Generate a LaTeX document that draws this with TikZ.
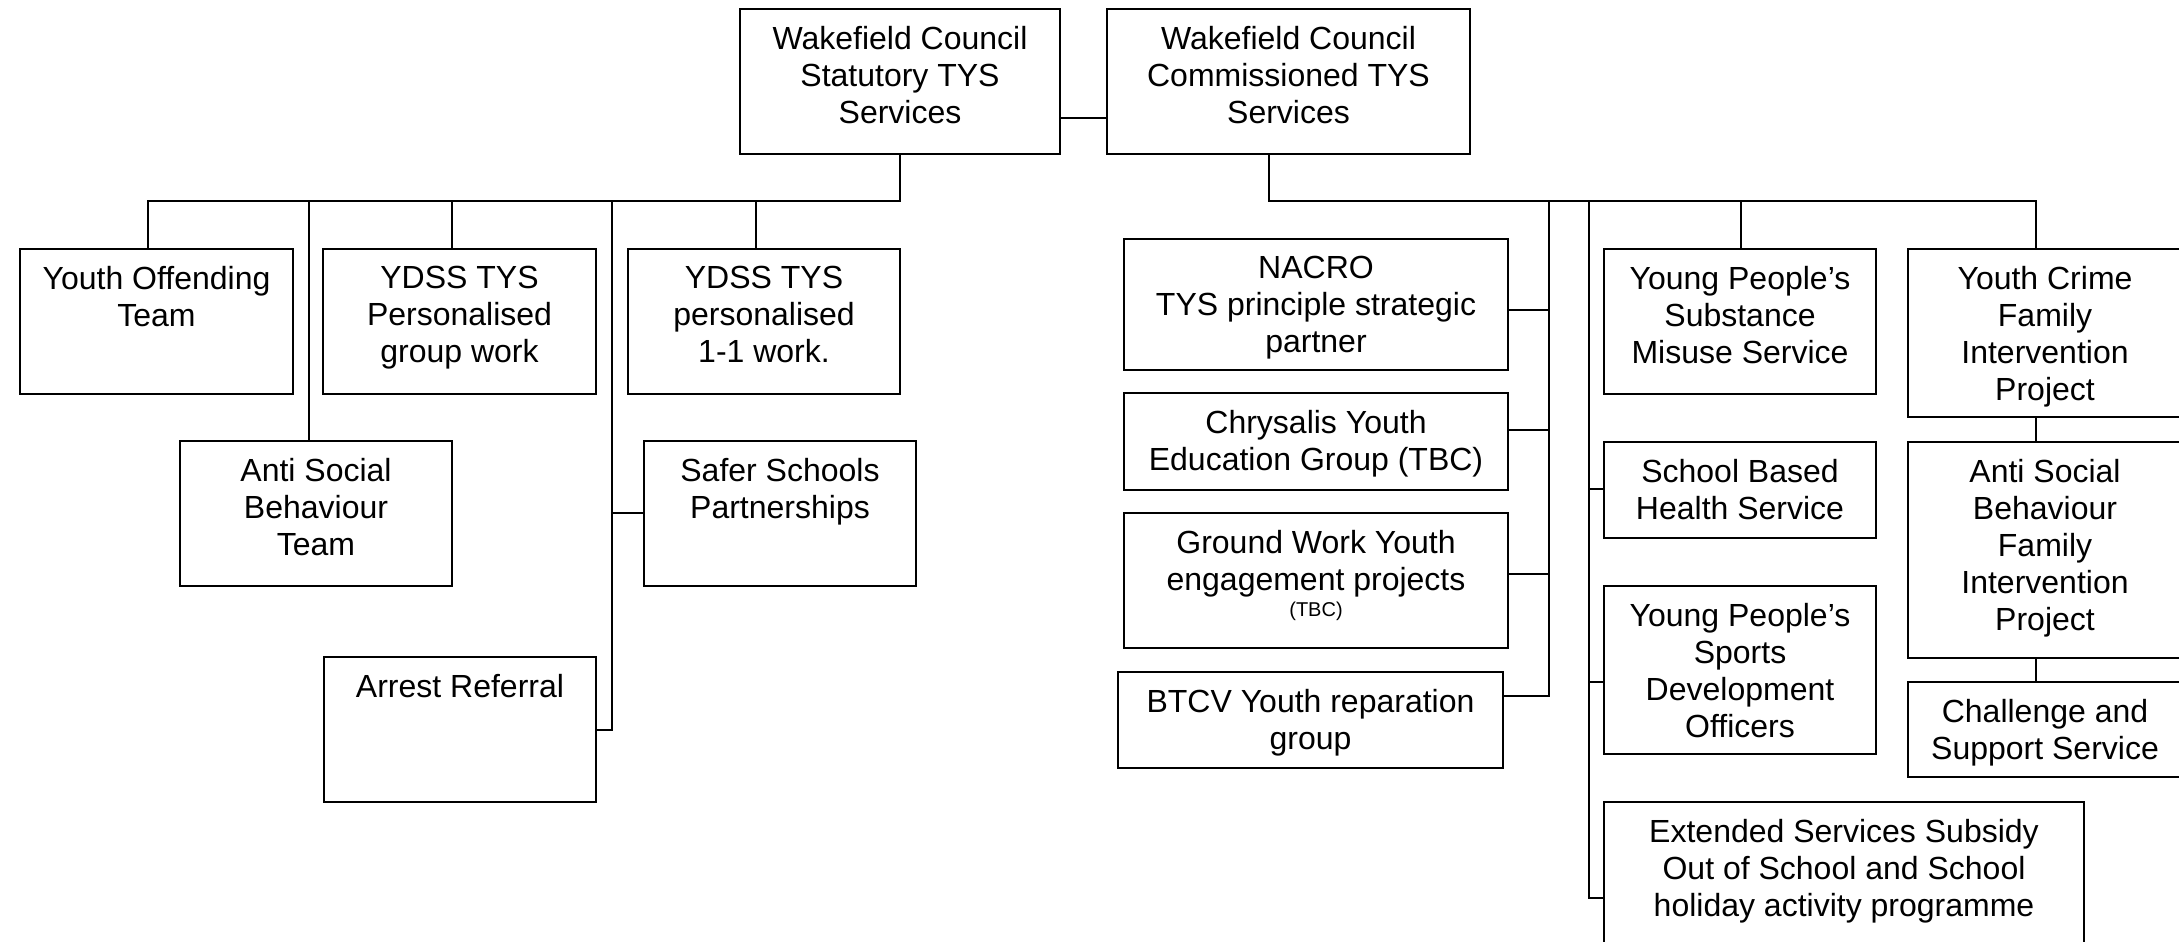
\documentclass[tikz,border=0pt]{standalone}
\usepackage{fontspec}
\setmainfont{Liberation Sans}
\tikzset{
  box/.style={draw, line width=1pt, rectangle, inner sep=0pt},
  conn/.style={line width=0.8pt},
  lbl/.style={anchor=north, align=center, inner sep=0pt, font=\fontsize{16}{18.5}\selectfont},
}
\newcommand\bx[6]{%
  \node[box, minimum width={(#4-#2)*0.5pt}, minimum height={(#5-#3)*0.5pt}] (#1) at ({(#2+#4)/2},{(#3+#5)/2}) {};
  \node[lbl] (#1t) at ([yshift=-9pt]#1.north) {#6};}
\begin{document}
\begin{tikzpicture}[x=0.5pt,y=-0.5pt]
\useasboundingbox (0,0) rectangle (2179,942);
\clip (0,0) rectangle (2179,942);
\fill[white] (0,0) rectangle (2179,942);
% top
\bx{stat}{740}{9}{1060}{154}{Wakefield Council\\Statutory TYS\\Services}
\bx{comm}{1107}{9}{1470}{154}{Wakefield Council\\Commissioned TYS\\Services}
% left
\bx{yot}{20}{249}{293}{394}{Youth Offending\\Team}
\bx{ydssg}{323}{249}{596}{394}{YDSS TYS\\Personalised\\group work}
\bx{ydss1}{628}{249}{900}{394}{YDSS TYS\\personalised\\1-1 work.}
\bx{asb}{180}{441}{452}{586}{Anti Social\\Behaviour\\Team}
\bx{safer}{644}{441}{916}{586}{Safer Schools\\Partnerships}
\bx{arrest}{324}{657}{596}{802}{Arrest Referral}
% right
\bx{nacro}{1124}{239}{1508}{370}{NACRO\\TYS principle strategic\\partner}
\bx{chrys}{1124}{393}{1508}{490}{Chrysalis Youth\\Education Group (TBC)}
\bx{ground}{1124}{513}{1508}{648}{Ground Work Youth\\engagement projects\\[-5.5pt]{\fontsize{10}{12}\selectfont (TBC)}}
\bx{btcv}{1118}{672}{1503}{768}{BTCV Youth reparation\\group}
\bx{ypsub}{1604}{249}{1876}{394}{Young People’s\\Substance\\Misuse Service}
\bx{school}{1604}{442}{1876}{538}{School Based\\Health Service}
\bx{sports}{1604}{586}{1876}{754}{Young People’s\\Sports\\Development\\Officers}
\bx{ext}{1604}{802}{2084}{962}{Extended Services Subsidy\\Out of School and School\\holiday activity programme}
\bx{ycrime}{1908}{249}{2182}{417}{Youth Crime\\Family\\Intervention\\Project}
\bx{asbf}{1908}{442}{2182}{658}{Anti Social\\Behaviour\\Family\\Intervention\\Project}
\bx{chall}{1908}{682}{2182}{777}{Challenge and\\Support Service}
% connectors top
\draw[conn] ([yshift=18.5pt]stat.south east) -- ([yshift=18.5pt]comm.south west);
% left tree
\coordinate (lb0) at (900,201);
\coordinate (lb1) at (148,201);
\coordinate (lb2) at (309,201);
\coordinate (lb3) at (452,201);
\coordinate (lb4) at (612,201);
\coordinate (lb5) at (756,201);
\draw[conn] (stat.south) -- (lb0) -- (lb1) -- (lb1 |- yot.north);
\draw[conn] (lb2) -- (lb2 |- asb.north);
\draw[conn] (lb3) -- (lb3 |- ydssg.north);
\draw[conn] (lb5) -- (lb5 |- ydss1.north);
\coordinate (lsafer) at (612,513);
\coordinate (larrest) at (612,730);
\draw[conn] (lb4) -- (larrest) -- (larrest -| arrest.east);
\draw[conn] (lsafer) -- (lsafer -| safer.west);
% right tree
\coordinate (rb0) at (1269,201);
\coordinate (rb1) at (1549,201);
\coordinate (rb2) at (1589,201);
\coordinate (rb3) at (1741,201);
\coordinate (rb4) at (2036,201);
\draw[conn] (rb0 |- comm.south) -- (rb0) -- (rb4) -- (rb4 |- ycrime.north);
\draw[conn] (rb3) -- (rb3 |- ypsub.north);
\coordinate (rn) at (1549,310);
\coordinate (rc) at (1549,430);
\coordinate (rg) at (1549,574);
\coordinate (rbt) at (1549,696);
\draw[conn] (rb1) -- (rbt) -- (rbt -| btcv.east);
\draw[conn] (rn) -- (rn -| nacro.east);
\draw[conn] (rc) -- (rc -| chrys.east);
\draw[conn] (rg) -- (rg -| ground.east);
\coordinate (rs) at (1589,489);
\coordinate (rsp) at (1589,682);
\coordinate (re) at (1589,898);
\draw[conn] (rb2) -- (re) -- (re -| ext.west);
\draw[conn] (rs) -- (rs -| school.west);
\draw[conn] (rsp) -- (rsp -| sports.west);
\draw[conn] (rb4 |- ycrime.south) -- (rb4 |- asbf.north);
\draw[conn] (rb4 |- asbf.south) -- (rb4 |- chall.north);
\end{tikzpicture}
\end{document}
